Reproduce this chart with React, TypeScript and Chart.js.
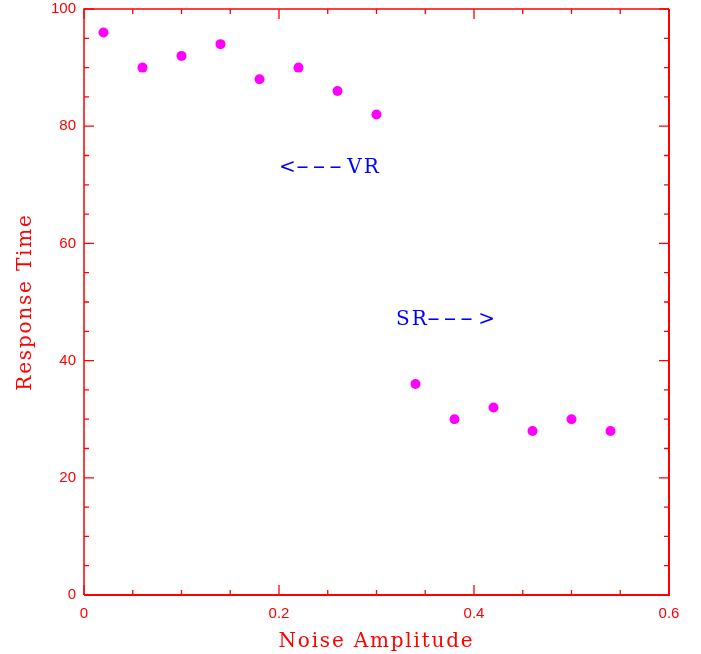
import React, { useEffect, useRef } from "react";
import { Chart, registerables } from "chart.js";

Chart.register(...registerables);

const noiseAmplitude = [0.02, 0.06, 0.1, 0.14, 0.18, 0.22, 0.26, 0.3, 0.34, 0.38, 0.42, 0.46, 0.5, 0.54];
const responseTime = [96, 90, 92, 94, 88, 90, 86, 82, 36, 30, 32, 28, 30, 28];

const annotationTexts = ["<---VR", "SR--->"];
const annotationX = [0.2, 0.32];
const annotationY = [72, 46];

const xTitle = "Noise Amplitude";
const yTitle = "Response Time";

const RED = "#ff0000";
const BLUE = "#0000ff";

function drawSpacedText(ctx: any, text: string, x: number, y: number) {
  let cx = x;
  for (const ch of text) {
    if (ch === "-") {
      const w = ctx.measureText(ch).width;
      const sx = 2.0;
      ctx.save();
      ctx.translate(cx, y);
      ctx.scale(sx, 1);
      ctx.fillText(ch, -1, 0);
      ctx.restore();
      cx += w * sx + 3;
    } else {
      ctx.fillText(ch, cx, y);
      cx += ctx.measureText(ch).width + 2;
    }
  }
}

const framePlugin = {
  id: "frame",
  beforeDatasetsDraw(chart: any) {
    const { ctx, chartArea } = chart;
    const xs = chart.scales.x;
    const ys = chart.scales.y;
    const { left, right, top, bottom } = chartArea;
    ctx.save();
    ctx.strokeStyle = RED;
    ctx.lineWidth = 1.5;
    ctx.beginPath();
    ctx.moveTo(left, bottom);
    ctx.lineTo(left, top);
    ctx.lineTo(right, top);
    ctx.stroke();
    ctx.lineWidth = 2;
    ctx.beginPath();
    ctx.moveTo(right, top);
    ctx.lineTo(right, bottom);
    ctx.lineTo(left, bottom);
    ctx.stroke();
    ctx.lineWidth = 1.3;
    for (let i = 0; i <= 12; i++) {
      const v = i * 0.05;
      const px = xs.getPixelForValue(v);
      const len = i % 4 === 0 ? 10 : 5;
      ctx.beginPath();
      ctx.moveTo(px, bottom);
      ctx.lineTo(px, bottom - len);
      ctx.moveTo(px, top);
      ctx.lineTo(px, top + len);
      ctx.stroke();
    }
    for (let i = 0; i <= 20; i++) {
      const v = i * 5;
      const py = ys.getPixelForValue(v);
      const len = i % 4 === 0 ? 10 : 5;
      ctx.beginPath();
      ctx.moveTo(left, py);
      ctx.lineTo(left + len, py);
      ctx.moveTo(right, py);
      ctx.lineTo(right - len, py);
      ctx.stroke();
    }
    ctx.restore();
  },
  afterDraw(chart: any) {
    const { ctx, chartArea } = chart;
    const xs = chart.scales.x;
    const ys = chart.scales.y;
    ctx.save();
    ctx.fillStyle = RED;
    ctx.font = "20px 'DejaVu Serif'";
    (ctx as any).letterSpacing = "1.8px";
    ctx.textAlign = "center";
    ctx.textBaseline = "alphabetic";
    ctx.fillText(xTitle, (chartArea.left + chartArea.right) / 2, 647);
    ctx.save();
    ctx.translate(31, (chartArea.top + chartArea.bottom) / 2);
    ctx.rotate(-Math.PI / 2);
    ctx.fillText(yTitle, 0, 0);
    ctx.restore();
    ctx.fillStyle = BLUE;
    ctx.textAlign = "left";
    (ctx as any).letterSpacing = "0px";
    for (let i = 0; i < annotationTexts.length; i++) {
      drawSpacedText(
        ctx,
        annotationTexts[i],
        xs.getPixelForValue(annotationX[i]),
        ys.getPixelForValue(annotationY[i])
      );
    }
    ctx.restore();
  },
};

export default function App() {
  const canvasRef = useRef<HTMLCanvasElement | null>(null);

  useEffect(() => {
    const canvas = canvasRef.current;
    if (!canvas) return;
    const chart = new Chart(canvas, {
      type: "scatter",
      data: {
        datasets: [
          {
            data: noiseAmplitude.map((x, i) => ({ x, y: responseTime[i] })),
            backgroundColor: "#ff00ff",
            borderColor: "#ff00ff",
            borderWidth: 0,
            pointRadius: 5,
          },
        ],
      },
      options: {
        responsive: false,
        animation: false,
        devicePixelRatio: 1,
        layout: { padding: { left: 0, right: 32, top: 9, bottom: 0 } },
        plugins: { legend: { display: false }, tooltip: { enabled: false } },
        scales: {
          x: {
            type: "linear",
            min: 0,
            max: 0.6,
            grid: { display: false, drawTicks: false },
            border: { display: false },
            ticks: {
              stepSize: 0.2,
              color: RED,
              font: { family: "'Liberation Sans'", size: 15 },
              padding: 10,
              maxRotation: 0,
              autoSkip: false,
            },
            afterFit: (s: any) => {
              s.height = 59;
              s.paddingLeft = 0;
              s.paddingRight = 0;
              s.paddingTop = 0;
              s.paddingBottom = 0;
            },
          },
          y: {
            type: "linear",
            min: 0,
            max: 100,
            grid: { display: false, drawTicks: false },
            border: { display: false },
            ticks: {
              stepSize: 20,
              color: RED,
              font: { family: "'Liberation Sans'", size: 15 },
              padding: 8,
            },
            afterFit: (s: any) => {
              s.width = 84;
              s.paddingTop = 0;
              s.paddingBottom = 0;
              s.paddingLeft = 0;
              s.paddingRight = 0;
            },
          },
        },
      },
      plugins: [framePlugin],
    });
    return () => chart.destroy();
  }, []);

  return (
    <div style={{ position: "fixed", left: 0, top: 0, width: 701, height: 654, background: "#fff" }}>
      <canvas ref={canvasRef} width={701} height={654} style={{ display: "block" }} />
    </div>
  );
}
